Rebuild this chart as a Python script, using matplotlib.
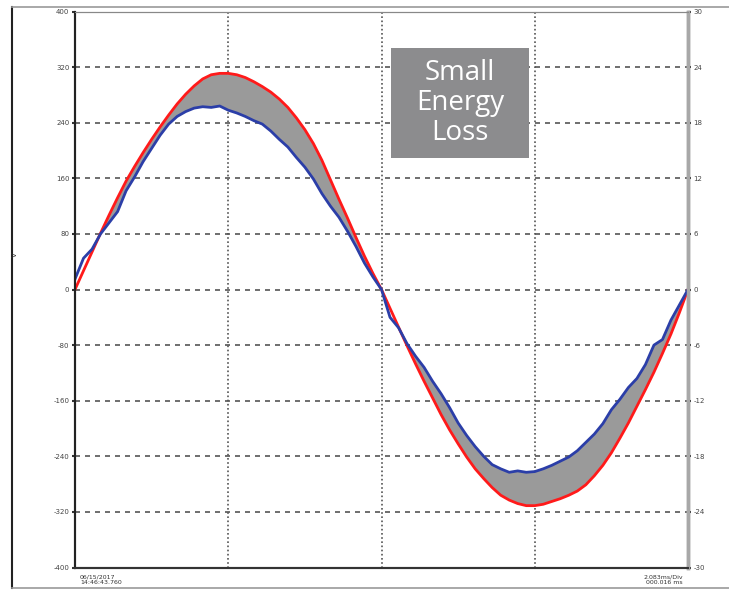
import numpy as np
import matplotlib.pyplot as plt
from matplotlib.lines import Line2D
from matplotlib.patches import Rectangle

# %% 데이터 (한 주기, 5도 간격으로 그림에서 읽은 값)

phase_deg = np.arange(0, 361, 5)

voltage_ref = [0, 27, 54, 81, 107, 132, 156, 177, 197, 216,
               234, 251, 267, 281, 293, 303, 309, 311, 311, 309,
               305, 299, 292, 284, 274, 262, 247, 230, 210, 186,
               158, 130, 103, 75, 48, 23, 0, -27, -54, -81,
               -107, -132, -156, -180, -202, -222, -241, -258, -272, -285,
               -296, -303, -308, -311, -311, -309, -305, -301, -296, -290,
               -281, -268, -253, -235, -214, -192, -168, -144, -119, -92,
               -64, -33, 0]

voltage_meas = [15, 45, 58, 80, 96, 112, 142, 162, 184, 203,
                222, 238, 249, 256, 261, 263, 262, 264, 258, 254,
                249, 243, 238, 228, 216, 205, 190, 176, 159, 138,
                120, 104, 84, 62, 38, 18, 0, -40, -55, -78,
                -96, -112, -132, -150, -170, -192, -210, -226, -240, -252,
                -258, -263, -261, -263, -262, -258, -253, -247, -241, -232,
                -220, -208, -193, -173, -158, -141, -128, -108, -80, -72,
                -44, -22, 0]

left_ticks = [400, 320, 240, 160, 80, 0, -80, -160, -240, -320, -400]
right_ticks = [30, 24, 18, 12, 6, 0, -6, -12, -18, -24, -30]

start_label = "06/15/2017\n14:46:43.760"
end_label = "2.083ms/Div\n000.016 ms"
box_text = "Small\nEnergy\nLoss"

# %% 그래프

red = np.array(voltage_ref)
blue = np.array(voltage_meas)

fig = plt.figure(figsize=(7.29, 5.93), dpi=100)
ax = fig.add_axes([75 / 729, 1 - 567.5 / 593, 613 / 729, 556 / 593])

ax.set_xlim(0, 360)
ax.set_ylim(-400, 400)

ax.fill_between(phase_deg, red, blue, where=np.abs(red) >= np.abs(blue),
                interpolate=True, color='#9a9a9a', lw=0, zorder=2)
ax.plot(phase_deg, red, color='#ff1a1a', lw=2.0, zorder=3)
ax.plot(phase_deg, blue, color='#2b3ea8', lw=2.0, zorder=4)

# 격자
for v in left_ticks[1:-1]:
    ax.axhline(v, color='#555555', lw=1.2, ls=(0, (3, 3)), zorder=1)
for d in [90, 180, 270]:
    ax.axvline(d, color='#555555', lw=1.2, ls=(0, (1, 1.5)), zorder=1)

ax.set_xticks([])
ax.set_yticks(left_ticks)
ax.set_yticklabels([str(t) for t in left_ticks], fontsize=5, color='#444444')
ax.tick_params(axis='y', length=2, width=1.5, color='#333333', pad=2)

ax2 = ax.twinx()
ax2.set_ylim(-30, 30)
ax2.set_yticks(right_ticks)
ax2.set_yticklabels([str(t) for t in right_ticks], fontsize=5, color='#444444')
ax2.tick_params(axis='y', length=2, width=1.5, color='#333333', pad=2)

for a in (ax, ax2):
    a.spines['left'].set_color('#222222')
    a.spines['bottom'].set_color('#333333')
    a.spines['top'].set_color('#888888')
    a.spines['right'].set_color('#a8a8a8')
    a.spines['right'].set_linewidth(2.5)
    a.spines['left'].set_linewidth(1.5)
    a.spines['bottom'].set_linewidth(1.5)

# 바깥 프레임
fig.add_artist(Line2D([12 / 729, 12 / 729], [1 - 7 / 593, 1 - 588 / 593],
                      color='#222222', lw=1.5, transform=fig.transFigure))
fig.add_artist(Line2D([12 / 729, 1], [1 - 7 / 593, 1 - 7 / 593],
                      color='#9a9a9a', lw=1.2, transform=fig.transFigure))
fig.add_artist(Line2D([12 / 729, 1], [1 - 588 / 593, 1 - 588 / 593],
                      color='#9a9a9a', lw=1.2, transform=fig.transFigure))

fig.text(15 / 729, 1 - 255 / 593, "V", fontsize=5, rotation=90, color='#333333',
         ha='center', va='center')

fig.text(80 / 729, 1 - 580 / 593, start_label, fontsize=4.5, color='#333333',
         ha='left', va='center', linespacing=1.1)
fig.text(683 / 729, 1 - 580 / 593, end_label, fontsize=4.5, color='#333333',
         ha='right', va='center', linespacing=1.1)

# 설명 박스
fig.add_artist(Rectangle((391 / 729, 1 - 158 / 593), 138 / 729, 110 / 593,
                         facecolor='#8c8c8e', edgecolor='none',
                         transform=fig.transFigure, zorder=10))
fig.text(460 / 729, 1 - 103 / 593, box_text, fontsize=20, color='white',
         family=['Open Sans', 'DejaVu Sans'], ha='center', va='center',
         linespacing=1.1, zorder=11)

fig.savefig('out.png', dpi=100)
